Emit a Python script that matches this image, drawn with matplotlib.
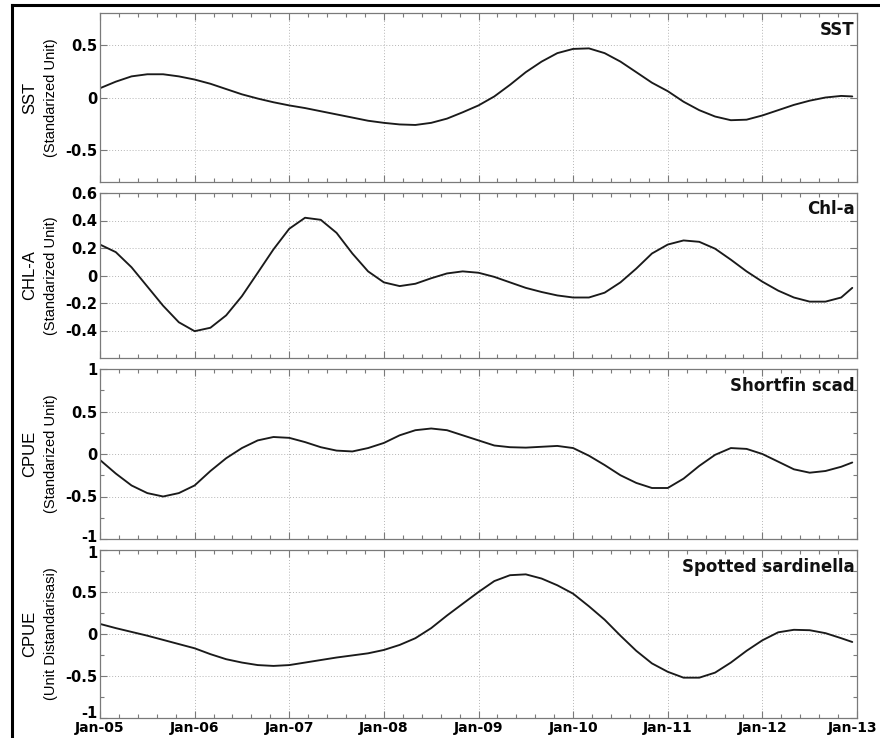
import numpy as np
import matplotlib
matplotlib.use("Agg")
import matplotlib.pyplot as plt
from matplotlib.ticker import FixedLocator, MultipleLocator, NullFormatter, FixedFormatter
from matplotlib.lines import Line2D
from matplotlib.transforms import ScaledTranslation

# ---------------- data ----------------
# time in decimal years, every two months, plus the last point of the record
time = [2005.0, 2005.167, 2005.333, 2005.5, 2005.667, 2005.833,
        2006.0, 2006.167, 2006.333, 2006.5, 2006.667, 2006.833,
        2007.0, 2007.167, 2007.333, 2007.5, 2007.667, 2007.833,
        2008.0, 2008.167, 2008.333, 2008.5, 2008.667, 2008.833,
        2009.0, 2009.167, 2009.333, 2009.5, 2009.667, 2009.833,
        2010.0, 2010.167, 2010.333, 2010.5, 2010.667, 2010.833,
        2011.0, 2011.167, 2011.333, 2011.5, 2011.667, 2011.833,
        2012.0, 2012.167, 2012.333, 2012.5, 2012.667, 2012.833,
        2012.95]

sst = [0.088, 0.15, 0.20, 0.22, 0.22, 0.20,
       0.17, 0.13, 0.08, 0.03, -0.01, -0.045,
       -0.075, -0.10, -0.13, -0.16, -0.19, -0.22,
       -0.24, -0.255, -0.26, -0.24, -0.20, -0.14,
       -0.075, 0.01, 0.12, 0.24, 0.34, 0.42,
       0.46, 0.465, 0.42, 0.34, 0.24, 0.14,
       0.06, -0.04, -0.12, -0.18, -0.215, -0.21,
       -0.17, -0.12, -0.07, -0.03, 0.0, 0.015,
       0.01]

chla = [0.225, 0.17, 0.06, -0.08, -0.22, -0.34,
        -0.405, -0.38, -0.29, -0.15, 0.02, 0.19,
        0.34, 0.42, 0.405, 0.31, 0.16, 0.03,
        -0.05, -0.077, -0.06, -0.02, 0.015, 0.03,
        0.02, -0.01, -0.05, -0.09, -0.12, -0.145,
        -0.16, -0.16, -0.125, -0.05, 0.05, 0.16,
        0.225, 0.255, 0.245, 0.195, 0.115, 0.03,
        -0.045, -0.11, -0.16, -0.19, -0.19, -0.16,
        -0.09]

scad = [-0.07, -0.23, -0.37, -0.46, -0.50, -0.46,
        -0.37, -0.20, -0.05, 0.07, 0.16, 0.20,
        0.19, 0.14, 0.08, 0.04, 0.03, 0.07,
        0.13, 0.22, 0.28, 0.30, 0.28, 0.22,
        0.16, 0.10, 0.08, 0.075, 0.085, 0.095,
        0.07, -0.02, -0.13, -0.25, -0.34, -0.40,
        -0.40, -0.29, -0.14, -0.01, 0.07, 0.06,
        0.0, -0.09, -0.18, -0.22, -0.20, -0.15,
        -0.10]

sardinella = [0.12, 0.07, 0.025, -0.02, -0.07, -0.12,
              -0.17, -0.24, -0.30, -0.34, -0.37, -0.38,
              -0.37, -0.34, -0.31, -0.28, -0.255, -0.23,
              -0.19, -0.13, -0.05, 0.07, 0.22, 0.36,
              0.50, 0.63, 0.70, 0.71, 0.66, 0.58,
              0.48, 0.33, 0.17, -0.02, -0.20, -0.35,
              -0.45, -0.52, -0.52, -0.46, -0.34, -0.20,
              -0.075, 0.02, 0.05, 0.045, 0.01, -0.05,
              -0.095]

year_ticks = [2005, 2006, 2007, 2008, 2009, 2010, 2011, 2012, 2013]
year_labels = ["Jan-05", "Jan-06", "Jan-07", "Jan-08", "Jan-09",
               "Jan-10", "Jan-11", "Jan-12", "Jan-13"]

titles = ["SST", "Chl-a", "Shortfin scad", "Spotted sardinella"]
ylab_main = ["SST", "CHL-A", "CPUE", "CPUE"]
ylab_sub = ["(Standarized Unit)", "(Standarized Unit)", "(Standarized Unit)", "(Unit Distandarisasi)"]
series = [sst, chla, scad, sardinella]

ylims = [(-0.8, 0.8), (-0.6, 0.6), (-1, 1), (-1, 1)]
yticks = [[-0.5, 0, 0.5],
          [-0.4, -0.2, 0, 0.2, 0.4, 0.6],
          [-1, -0.5, 0, 0.5, 1],
          [-1, -0.5, 0, 0.5, 1]]
ytick_labels = [["-0.5", "0", "0.5"],
                ["-0.4", "-0.2", "0", "0.2", "0.4", "0.6"],
                ["-1", "-0.5", "0", "0.5", "1"],
                ["-1", "-0.5", "0", "0.5", "1"]]
yminor = [None, None, [-0.75, -0.25, 0.25, 0.75], [-0.75, -0.25, 0.25, 0.75]]

# ---------------- figure ----------------
plt.rcParams['font.family'] = ['DejaVu Sans']
fig = plt.figure(figsize=(8.8, 7.38), dpi=100)

W, H = 880.0, 738.0
left_px, right_px = 100, 857
panels_px = [(13, 182), (193, 358), (369, 539), (550, 718)]

spine_col = '#7a7a7a'
narrow = ['Liberation Sans Narrow', 'Liberation Sans', 'DejaVu Sans']


def nudge(label, dx_px, dy_px):
    label.set_transform(label.get_transform() +
                        ScaledTranslation(dx_px / 100, dy_px / 100, fig.dpi_scale_trans))


for i, (top, bot) in enumerate(panels_px):
    ax = fig.add_axes([left_px / W, 1 - bot / H, (right_px - left_px) / W, (bot - top) / H])
    ax.plot(time, series[i], color='#1a1a1a', lw=1.35, solid_capstyle='round',
            solid_joinstyle='round')
    ax.set_xlim(2005, 2013)
    ax.set_ylim(*ylims[i])

    ax.xaxis.set_major_locator(FixedLocator(year_ticks))
    ax.xaxis.set_minor_locator(MultipleLocator(0.2))
    if i == 3:
        ax.set_xticklabels(year_labels)
    else:
        ax.xaxis.set_major_formatter(NullFormatter())

    ax.yaxis.set_major_locator(FixedLocator(yticks[i]))
    ax.yaxis.set_major_formatter(FixedFormatter(ytick_labels[i]))
    if yminor[i] is not None:
        ax.yaxis.set_minor_locator(FixedLocator(yminor[i]))

    ax.tick_params(which='both', direction='in', top=True, right=True,
                   color=spine_col, width=0.8)
    ax.tick_params(which='major', length=5, labelsize=10.5, pad=2)
    ax.tick_params(axis='x', which='major', labelsize=10)
    ax.tick_params(which='minor', length=3)
    for lab in ax.get_xticklabels() + ax.get_yticklabels():
        lab.set_fontweight('bold')

    ylabs = ax.get_yticklabels()
    if i == 2:
        nudge(ylabs[0], 0, 3)       # "-1" at the bottom
    if i == 3:
        nudge(ylabs[0], 0, 6)       # "-1" above the date labels
        nudge(ylabs[-1], 0, -2)     # "1" at the top
        nudge(ax.get_xticklabels()[-1], -4, 0)

    for sp in ax.spines.values():
        sp.set_color(spine_col)
        sp.set_linewidth(0.9)

    ax.grid(True, which='major', linestyle=(0, (1, 2)), color='#b5b5b5', lw=0.7)

    ax.text(0.997, 0.955, titles[i], transform=ax.transAxes, ha='right', va='top',
            fontsize=12, fontweight='bold', color='#111111')

    yc = 1 - (top + bot) / 2 / H
    fig.text(30 / W, yc, ylab_main[i], rotation=90, ha='center', va='center',
             fontsize=12, family=narrow)
    fig.text(51 / W, yc, ylab_sub[i], rotation=90, ha='center', va='center',
             fontsize=10.5, family=narrow)

# outer frame lines (left and top)
fig.add_artist(Line2D([12 / W, 12 / W], [0, 1 - 5 / H], color='black', lw=2.2,
                      transform=fig.transFigure))
fig.add_artist(Line2D([12 / W, 1], [1 - 5 / H, 1 - 5 / H], color='black', lw=2.2,
                      transform=fig.transFigure))

fig.savefig("out.png", dpi=100)
